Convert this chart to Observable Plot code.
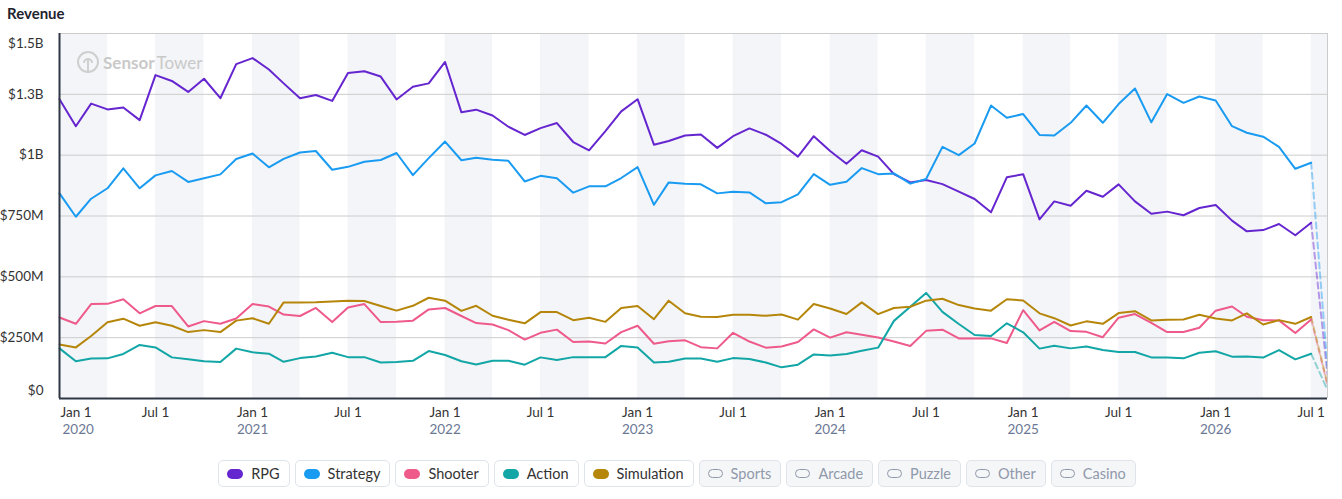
<!DOCTYPE html>
<html>
<head>
<meta charset="utf-8">
<script src="https://cdn.jsdelivr.net/npm/d3@7"></script>
<script src="https://cdn.jsdelivr.net/npm/@observablehq/plot@0.6"></script>
<style>
  body { margin: 0; background: #fff; font-family: Lato, "Noto Sans", sans-serif; }
  #wrap { position: relative; width: 1342px; height: 499px; overflow: hidden; }
  #title { height: 22px; line-height: 26px; padding-left: 7px; font-weight: 700; font-size: 15px; color: #1f2430; }
  #legend { display: flex; justify-content: center; gap: 5px; margin-top: 8px; padding-left: 12px; }
  .item { display: flex; align-items: center; height: 25px; border: 1px solid #dfe3ea; border-radius: 5px;
          padding: 0 9px 0 8px; font-size: 14.5px; color: #333; background: #fff; }
  .item .pill { width: 16px; height: 10px; border-radius: 5px; margin-right: 8px; }
  .item.off { background: #f5f6f8; color: #8f99aa; }
  .item.off .pill { width: 13px; height: 7px; border: 1.5px solid #8f99aa; border-radius: 5px; margin-right: 8px; }
  #wm { position: absolute; left: 76px; top: 50px; pointer-events: none; }
  svg text { font-family: Lato, "Noto Sans", sans-serif; }
</style>
</head>
<body>
<div id="wrap">
  <div id="title">Revenue</div>
  <div id="chart"></div>
  <div id="legend"></div>
  <svg id="wm" width="160" height="26" viewBox="0 0 160 26">
    <circle cx="12" cy="12" r="10" fill="none" stroke="#cfcfcf" stroke-width="2"/>
    <path d="M8 13 a4 4 0 1 1 8 0" fill="none" stroke="#cfcfcf" stroke-width="2"/>
    <line x1="12" y1="10" x2="12" y2="23" stroke="#cfcfcf" stroke-width="2"/>
    <text x="27" y="18.5" font-size="17" fill="#c9c9c9"><tspan font-weight="700">Sensor</tspan><tspan dx="2">Tower</tspan></text>
  </svg>
</div>
<script>
// ---- Data (values in millions of USD), monthly Jan 2020 .. Aug 2026 (last month partial) ----
const seriesNames = ["RPG", "Strategy", "Shooter", "Action", "Simulation"];
const seriesColors = ["#6526d0", "#1a9bf2", "#ee5a8a", "#13a6a6", "#b5860a"];
const inactiveNames = ["Sports", "Arcade", "Puzzle", "Other", "Casino"];

const rpg = [1230,1119,1212,1188,1196,1144,1329,1305,1260,1314,1234,1374,1399,1352,1295,1234,1247,1223,1338,1345,1323,1229,1281,1295,
  1383,1176,1187,1163,1117,1083,1111,1132,1054,1020,1099,1180,1230,1043,1058,1081,1085,1030,1078,1110,1084,1046,994,1078,
  1017,965,1020,994,922,888,898,881,850,820,765,909,922,736,810,792,854,829,880,810,759,768,753,783,
  795,731,687,692,717,671,722,100];
const strategy = [843,747,821,864,946,864,917,935,890,905,921,984,1007,950,985,1011,1017,940,952,973,980,1009,918,988,
  1056,979,989,981,977,892,915,905,846,872,872,906,951,796,888,883,880,843,850,847,802,807,839,922,
  878,891,947,922,925,883,902,1034,1000,1048,1204,1154,1169,1083,1081,1133,1204,1133,1210,1274,1135,1251,1215,1241,
  1225,1119,1092,1076,1034,944,969,130];
const shooter = [333,307,388,389,408,350,380,380,296,318,307,329,388,378,345,339,372,314,374,388,314,315,320,366,
  372,339,310,304,281,242,270,283,232,234,226,273,299,225,235,239,211,206,270,234,209,214,232,284,
  250,272,262,251,234,216,278,283,247,247,247,228,363,280,315,277,274,252,332,347,311,273,273,291,
  361,378,336,322,321,269,325,55];
const action = [206,153,164,165,183,220,210,169,161,153,150,205,190,184,151,166,173,188,170,170,148,150,155,195,
  179,153,140,155,155,139,169,158,170,170,170,216,210,148,151,164,164,151,166,162,148,128,139,181,
  177,183,196,209,319,377,434,356,306,261,257,309,272,205,217,206,214,199,191,191,169,169,165,188,
  194,172,173,168,199,161,184,35];
const simulation = [222,210,257,313,328,299,313,299,273,281,273,320,330,307,395,395,396,399,402,401,380,361,381,414,
  402,360,381,340,324,309,355,355,322,332,315,372,380,326,402,350,336,335,344,344,340,345,324,388,
  370,347,395,347,372,377,402,410,384,370,361,408,403,350,330,300,317,307,351,359,321,324,325,344,
  329,321,350,304,322,307,335,60];

const yTicks = [0, 250, 500, 750, 1000, 1250, 1500];
const yTickLabels = ["$0", "$250M", "$500M", "$750M", "$1B", "$1.3B", "$1.5B"];
const xTickMonths = ["Jan 1", "Jul 1"];
const years = [2020, 2021, 2022, 2023, 2024, 2025, 2026];

// ---- Build tables ----
const months = d3.utcMonth.range(new Date(Date.UTC(2020, 0, 1)), new Date(Date.UTC(2026, 8, 1)));
const values = [rpg, strategy, shooter, action, simulation];
const solid = [], dashed = [];
seriesNames.forEach((name, s) => {
  values[s].forEach((v, i) => {
    const row = {series: name, date: months[i], value: v};
    if (i < months.length - 1) solid.push(row);
    if (i >= months.length - 2) dashed.push(row);
  });
});
const xStart = months[0], xEnd = months[months.length - 1];
const bands = [];
years.forEach(y => {
  bands.push({start: new Date(Date.UTC(y, 0, 1)), end: new Date(Date.UTC(y, 3, 1))});
  bands.push({start: new Date(Date.UTC(y, 6, 1)), end: new Date(Date.UTC(y, 9, 1))});
});
const xTicks = [];
years.forEach(y => {
  xTicks.push({date: new Date(Date.UTC(y, 0, 1)), label: xTickMonths[0], year: String(y)});
  xTicks.push({date: new Date(Date.UTC(y, 6, 1)), label: xTickMonths[1], year: ""});
});
const yRows = yTicks.map((v, i) => ({v, label: yTickLabels[i]}));
const yMid = yRows.slice(1, -1), yTop = yRows.slice(-1), yBottom = yRows.slice(0, 1);
const xFirst = xTicks.slice(0, 1), xRest = xTicks.slice(1);

const chart = Plot.plot({
  width: 1342,
  height: 430,
  marginTop: 11,
  marginLeft: 59,
  marginRight: 15,
  marginBottom: 54,
  x: {type: "utc", domain: [xStart, xEnd], axis: null},
  y: {domain: [0, 1500], axis: null},
  color: {domain: seriesNames, range: seriesColors},
  style: {fontFamily: "Lato, 'Noto Sans', sans-serif", fontSize: "13.5px", color: "#333", background: "transparent"},
  marks: [
    Plot.rect(bands, {x1: "start", x2: "end", y1: 0, y2: 1500, fill: "#f4f5f8", clip: true}),
    Plot.ruleY(yTicks, {stroke: "#cccccc", strokeWidth: 1}),
    Plot.ruleX([xEnd], {stroke: "#cccccc", strokeWidth: 1}),
    Plot.line(dashed, {x: "date", y: "value", z: "series", stroke: "series", strokeWidth: 2,
      strokeDasharray: "6,4", strokeOpacity: 0.45, clip: true}),
    Plot.line(solid, {x: "date", y: "value", z: "series", stroke: "series", strokeWidth: 2}),
    Plot.ruleX([xStart], {stroke: "#2f3645", strokeWidth: 2}),
    Plot.ruleY([0], {stroke: "#2f3645", strokeWidth: 2}),
    // y labels
    Plot.text(yMid, {y: "v", text: "label", frameAnchor: "left", dx: -16, textAnchor: "end", fill: "#333"}),
    Plot.text(yTop, {y: "v", text: "label", frameAnchor: "left", dx: -16, dy: 10, textAnchor: "end", fill: "#333"}),
    Plot.text(yBottom, {y: "v", text: "label", frameAnchor: "left", dx: -16, dy: -8, textAnchor: "end", fill: "#333"}),
    // x labels
    Plot.text(xFirst, {x: "date", text: "label", frameAnchor: "bottom", dy: 18, dx: 1, textAnchor: "start", fill: "#333"}),
    Plot.text(xFirst, {x: "date", text: "year", frameAnchor: "bottom", dy: 35, dx: 3, textAnchor: "start", fill: "#6b7894"}),
    Plot.text(xRest, {x: "date", text: "label", frameAnchor: "bottom", dy: 18, fill: "#333"}),
    Plot.text(xRest, {x: "date", text: "year", frameAnchor: "bottom", dy: 35, fill: "#6b7894"})
  ]
});
document.getElementById("chart").appendChild(chart);

// ---- Legend ----
const legend = document.getElementById("legend");
seriesNames.forEach((n, i) => {
  const it = document.createElement("div");
  it.className = "item";
  it.innerHTML = `<span class="pill" style="background:${seriesColors[i]}"></span><span>${n}</span>`;
  legend.appendChild(it);
});
inactiveNames.forEach(n => {
  const it = document.createElement("div");
  it.className = "item off";
  it.innerHTML = `<span class="pill"></span><span>${n}</span>`;
  legend.appendChild(it);
});
</script>
</body>
</html>
